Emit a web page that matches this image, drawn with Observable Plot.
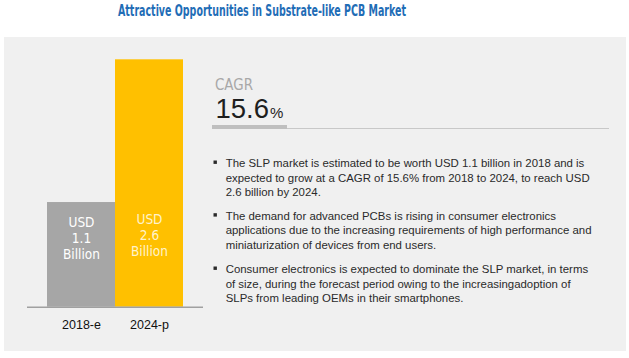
<!DOCTYPE html>
<html><head><meta charset="utf-8">
<script src="https://cdn.jsdelivr.net/npm/d3@7"></script>
<script src="https://cdn.jsdelivr.net/npm/@observablehq/plot@0.6"></script>
<style>
body{margin:0;background:#fff;}
#wrap{position:relative;width:629px;height:358px;overflow:hidden;}
#panel{position:absolute;left:4px;top:37px;width:622px;height:314px;background:#f0f0f0;}
#chart{position:absolute;left:0;top:0;}
#text{position:absolute;left:0;top:0;}
</style></head>
<body>
<div id="wrap"><div id="panel"></div><div id="chart"></div><div id="text"></div></div>
<script>
const years = ["2018-e", "2024-p"];
const values = [1.1, 2.6];
const barColors = ["#a6a6a6", "#ffc000"];
const labelColors = ["#ffffff", "#fff3cc"];
const title = "Attractive Opportunities in Substrate-like PCB Market";
const cagrLabel = "CAGR";
const cagrValue = "15.6";
const bullets = [
  ["The SLP market is estimated to be worth USD 1.1 billion in 2018 and is",
   "expected to grow at a CAGR of 15.6% from 2018 to 2024, to reach USD",
   "2.6 billion by 2024."],
  ["The demand for advanced PCBs is rising in consumer electronics",
   "applications due to the increasing requirements of high performance and",
   "miniaturization of devices from end users."],
  ["Consumer electronics is expected to dominate the SLP market, in terms",
   "of size, during the forecast period owing to the increasingadoption of",
   "SLPs from leading OEMs in their smartphones."]
];

const data = years.map((y, i) => ({year: y, value: values[i], color: barColors[i], label: labelColors[i]}));
const narrow = "'Liberation Sans Narrow','DejaVu Sans Condensed',sans-serif";

const chart = Plot.plot({
  width: 240, height: 358,
  marginLeft: 27, marginRight: 37, marginTop: 59.3, marginBottom: 51.3,
  x: {domain: years, paddingInner: 0, paddingOuter: 0.285, tickSize: 0, tickPadding: 13, label: null},
  y: {domain: [0, 2.6], axis: null},
  color: {type: "identity"},
  style: {background: "transparent", fontFamily: "'Liberation Sans',Arial,sans-serif", fontSize: "12.5px", color: "#111", overflow: "visible"},
  marks: [
    Plot.barY(data, {x: "year", y: "value", fill: "color"}),
    Plot.ruleY([0], {stroke: "#a0a0a0", strokeWidth: 1.5}),
    Plot.text(data.slice(0,1), {x: "year", y: d => 0, text: d => `USD\n${d.value}\nBillion`, fill: "label", dy: -69, lineHeight: 1.18, fontSize: 13.5, fontFamily: narrow}),
    Plot.text(data.slice(1), {x: "year", y: d => 0, text: d => `USD\n${d.value}\nBillion`, fill: "label", dy: -72, lineHeight: 1.18, fontSize: 13.5, fontFamily: narrow})
  ]
});
document.getElementById("chart").append(chart);

const svg = d3.create("svg").attr("width", 629).attr("height", 358);
svg.append("text").attr("x", 118).attr("y", 15.5).attr("textLength", 288).attr("lengthAdjust", "spacingAndGlyphs")
  .attr("font-family", narrow).attr("font-weight", "bold").attr("font-size", 15).attr("fill", "#1f6db6").text(title);

svg.append("text").attr("x", 215).attr("y", 89.8).attr("textLength", 38).attr("lengthAdjust", "spacingAndGlyphs")
  .attr("font-family", narrow).attr("font-size", 15).attr("fill", "#a8a8a8").text(cagrLabel);
const big = svg.append("text").attr("x", 215.5).attr("y", 117.5).attr("font-family", "'Liberation Sans',Arial,sans-serif").attr("fill", "#1e1e1e");
big.append("tspan").attr("font-size", 27.5).text(cagrValue);
big.append("tspan").attr("font-size", 15).attr("dx", 1).text("%");
svg.append("line").attr("x1", 287).attr("x2", 609).attr("y1", 128.5).attr("y2", 128.5).attr("stroke", "#c8c8c8").attr("stroke-width", 1.2);
svg.append("rect").attr("x", 212).attr("y", 125).attr("width", 75).attr("height", 4).attr("fill", "#bfbfbf");

const baselines0 = [167.3, 220, 273.3];
const lineStep = 14.4;
const g = svg.append("g").attr("font-family", "'Liberation Sans',Arial,sans-serif").attr("font-size", 10.8).attr("fill", "#2a2a2a");
bullets.forEach((lines, p) => {
  g.append("rect").attr("x", 213.5).attr("y", baselines0[p] - 6.8).attr("width", 3.4).attr("height", 3.4).attr("fill", "#2a2a2a");
  lines.forEach((ln, i) => {
    g.append("text").attr("x", 225.7).attr("y", baselines0[p] + i * lineStep).text(ln);
  });
});
document.getElementById("text").append(svg.node());
// fit bullet font so the first line spans its measured width
const first = g.select("text").node();
const w = first.getComputedTextLength();
if (w > 0) g.attr("font-size", 10.8 * 359 / w);
</script>
</body></html>
